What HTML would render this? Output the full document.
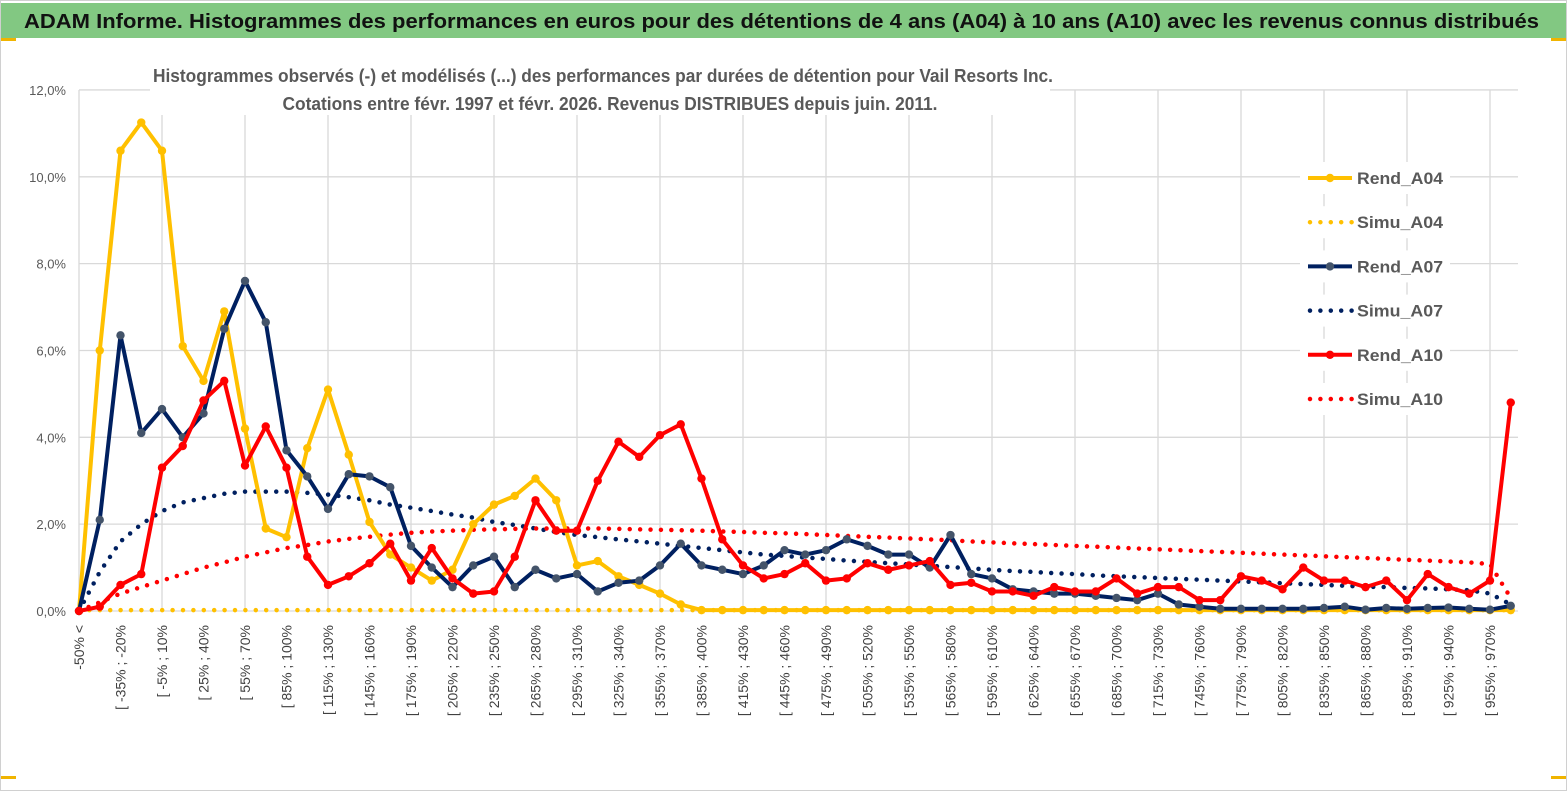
<!DOCTYPE html>
<html><head><meta charset="utf-8"><style>
html,body{margin:0;padding:0;background:#fff;}
svg{display:block;font-family:"Liberation Sans",sans-serif;}
</style></head><body>
<svg id="chart" width="1567" height="791" viewBox="0 0 1567 791">
<rect x="0.5" y="0.5" width="1566" height="790" fill="#fff" stroke="#d0d0d0"/>
<rect x="1" y="3" width="1565" height="35" fill="#82c882"/>
<rect x="1" y="38" width="15" height="3" fill="#f0b400"/>
<rect x="1551" y="38" width="15" height="3" fill="#f0b400"/>
<rect x="1" y="776" width="15" height="3" fill="#f0b400"/>
<rect x="1551" y="776" width="15" height="3" fill="#f0b400"/>
<text x="24" y="28" font-size="20" font-weight="bold" fill="#111" textLength="1515" lengthAdjust="spacingAndGlyphs">ADAM Informe. Histogrammes des performances en euros pour des détentions de 4 ans (A04) à 10 ans (A10) avec les revenus connus distribués</text>
<g id="grid"></g>
<g id="yaxis"></g>
<g id="xaxis"></g>
<rect x="150" y="60" width="900" height="55" fill="#fff"/>
<text x="603" y="82" font-size="18" font-weight="bold" fill="#595959" text-anchor="middle" textLength="900" lengthAdjust="spacingAndGlyphs">Histogrammes observés (-) et modélisés (...) des performances par durées de détention pour Vail Resorts Inc.</text>
<text x="610" y="110" font-size="18" font-weight="bold" fill="#595959" text-anchor="middle" textLength="655" lengthAdjust="spacingAndGlyphs">Cotations entre févr. 1997 et févr. 2026. Revenus DISTRIBUES depuis juin. 2011.</text>
<g id="series"></g>
<g id="legend"></g>
</svg>
<script>
const yTicks = [0,2,4,6,8,10,12];
const xLabelsStart = -50, xStep = 15;
const rendA04 = [0,6.0,10.6,11.25,10.6,6.1,5.3,6.9,4.2,1.9,1.7,3.75,5.1,3.6,2.05,1.3,1.0,0.7,0.95,2.0,2.45,2.65,3.05,2.55,1.05,1.15,0.8,0.6,0.4,0.15,0.02,0.02,0.02,0.02,0.02,0.02,0.02,0.02,0.02,0.02,0.02,0.02,0.02,0.02,0.02,0.02,0.02,0.02,0.02,0.02,0.02,0.02,0.02,0.02,0.02,0.02,0.02,0.02,0.02,0.02,0.02,0.02,0.02,0.02,0.02,0.02,0.02,0.02,0.02,0.02];
const rendA07 = [0,2.1,6.35,4.1,4.65,4.0,4.55,6.5,7.6,6.65,3.7,3.1,2.35,3.15,3.1,2.85,1.5,1.0,0.55,1.05,1.25,0.55,0.95,0.75,0.85,0.45,0.65,0.7,1.05,1.55,1.05,0.95,0.85,1.05,1.4,1.3,1.4,1.65,1.5,1.3,1.3,1.0,1.75,0.85,0.75,0.5,0.45,0.4,0.4,0.35,0.3,0.25,0.4,0.15,0.1,0.05,0.05,0.05,0.05,0.05,0.07,0.1,0.03,0.07,0.05,0.07,0.08,0.05,0.03,0.12];
const rendA10 = [0,0.1,0.6,0.85,3.3,3.8,4.85,5.3,3.35,4.25,3.3,1.25,0.6,0.8,1.1,1.55,0.7,1.45,0.75,0.4,0.45,1.25,2.55,1.85,1.85,3.0,3.9,3.55,4.05,4.3,3.05,1.65,1.05,0.75,0.85,1.1,0.7,0.75,1.1,0.95,1.05,1.15,0.6,0.65,0.45,0.45,0.35,0.55,0.45,0.45,0.75,0.4,0.55,0.55,0.25,0.25,0.8,0.7,0.5,1.0,0.7,0.7,0.55,0.7,0.25,0.85,0.55,0.4,0.7,4.8];
const simuA04 = rendA04.map(()=>0.02);
const simuA07 = [0,0.9,1.6,2.0,2.3,2.5,2.6,2.7,2.75,2.75,2.75,2.72,2.68,2.62,2.55,2.45,2.38,2.3,2.22,2.15,2.05,1.98,1.9,1.82,1.75,1.7,1.65,1.6,1.55,1.5,1.45,1.4,1.35,1.3,1.27,1.23,1.2,1.16,1.13,1.1,1.07,1.04,1.01,0.98,0.95,0.92,0.9,0.87,0.85,0.82,0.8,0.78,0.76,0.74,0.72,0.7,0.68,0.66,0.64,0.62,0.6,0.58,0.56,0.55,0.53,0.52,0.5,0.48,0.4,0.15];
const simuA10 = [0,0.2,0.4,0.55,0.7,0.85,1.0,1.12,1.25,1.35,1.45,1.52,1.6,1.66,1.71,1.76,1.8,1.83,1.85,1.87,1.88,1.89,1.9,1.9,1.9,1.9,1.89,1.88,1.87,1.86,1.85,1.83,1.82,1.8,1.79,1.77,1.75,1.73,1.71,1.69,1.67,1.65,1.63,1.6,1.58,1.56,1.54,1.52,1.5,1.48,1.46,1.44,1.42,1.4,1.38,1.36,1.34,1.32,1.3,1.28,1.26,1.24,1.22,1.2,1.18,1.16,1.14,1.12,1.08,0.3];
const seriesNames = ["Rend_A04","Simu_A04","Rend_A07","Simu_A07","Rend_A10","Simu_A10"];

const NS="http://www.w3.org/2000/svg";
const X0=79, DX=20.75, Y0=611, PY=43.42;
const N=rendA04.length;
const xs=i=>X0+i*DX, ys=v=>Y0-v*PY;
function mk(tag,attrs,parent){const e=document.createElementNS(NS,tag);for(const k in attrs)e.setAttribute(k,attrs[k]);parent.appendChild(e);return e;}
const grid=document.getElementById('grid'),ya=document.getElementById('yaxis'),xa=document.getElementById('xaxis'),sg=document.getElementById('series'),lg=document.getElementById('legend');
const XEND=1518;
yTicks.forEach(t=>{
  const l=mk('line',{x1:X0,x2:XEND,y1:ys(t),y2:ys(t),stroke:'#d9d9d9','stroke-width':1.3},grid);
  
  
  const tx=mk('text',{x:66,y:ys(t)+5,'font-size':13,fill:'#595959','text-anchor':'end'},ya);
  tx.textContent=t.toFixed(1).replace('.',',')+'%';
  
  
});
for(let i=0;i<N;i+=4){
  const l=mk('line',{x1:xs(i),x2:xs(i),y1:ys(12),y2:Y0,stroke:'#d9d9d9','stroke-width':1.3},grid);
  
  
}
for(let i=0;i<N-1;i+=2){
  let lab;
  if(i===0) lab='-50% <';
  else {const a=xLabelsStart+(i-1)*xStep; lab='[ '+a+'% ; '+(a+xStep)+'%';}
  const t=mk('text',{x:0,y:0,'font-size':14,fill:'#404040','text-anchor':'end',transform:`translate(${xs(i)+5},625) rotate(-90)`},xa);
  t.textContent=lab;
  
  
}
function pts(arr){return arr.map((v,i)=>xs(i).toFixed(1)+','+ys(v).toFixed(1)).join(' ');}
function dotted(arr,color,name){
  const p=mk('polyline',{points:pts(arr),fill:'none',stroke:color,'stroke-width':4.5,'stroke-dasharray':'0 10.4','stroke-linecap':'round'},sg);
  
  
}
function solid(arr,color,mcolor,name){
  const p=mk('polyline',{points:pts(arr),fill:'none',stroke:color,'stroke-width':4,'stroke-linejoin':'round'},sg);
  
  
  arr.forEach((v,i)=>{
    const c=mk('circle',{cx:xs(i),cy:ys(v),r:4.2,fill:mcolor},sg);
    
    
  });
}
dotted(simuA04,'#ffc000','simu-a04-line');
dotted(simuA07,'#002060','simu-a07-line');
dotted(simuA10,'#ff0000','simu-a10-line');
solid(rendA04,'#ffc000','#ffc000','rend-a04-line');
solid(rendA07,'#002060','#44546a','rend-a07-line');
solid(rendA10,'#ff0000','#ff0000','rend-a10-line');
const lcol=['#ffc000','#ffc000','#002060','#002060','#ff0000','#ff0000'];
seriesNames.forEach((nm,k)=>{
  const y=178+k*44.2;
  const g=mk('g',{},lg);
  
  
  mk('rect',{x:1300,y:y-16,width:150,height:32,fill:'#fff'},g);
  if(k%2===0){
    mk('line',{x1:1308,x2:1352,y1:y,y2:y,stroke:lcol[k],'stroke-width':4},g);
    mk('circle',{cx:1330,cy:y,r:4.2,fill:k===2?'#44546a':lcol[k]},g);
  } else {
    mk('line',{x1:1310,x2:1352,y1:y,y2:y,stroke:lcol[k],'stroke-width':4.5,'stroke-dasharray':'0 10.4','stroke-linecap':'round'},g);
  }
  const t=mk('text',{x:1357,y:y+6,'font-size':17,'font-weight':'bold',fill:'#595959',textLength:86,lengthAdjust:'spacingAndGlyphs'},g);
  t.textContent=nm;
});
</script>
</body></html>
